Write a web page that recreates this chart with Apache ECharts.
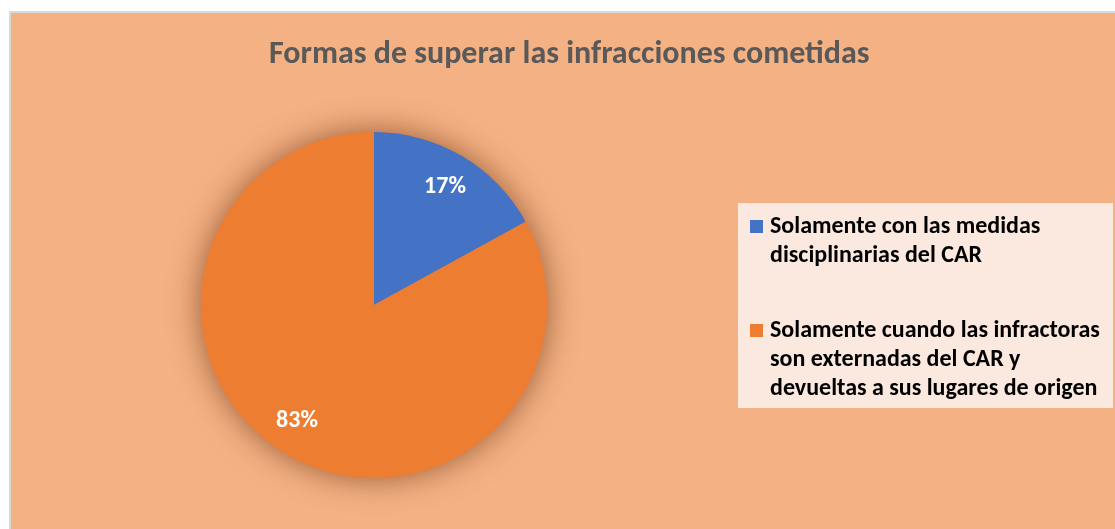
<!DOCTYPE html>
<html>
<head>
<meta charset="utf-8">
<title>Formas de superar las infracciones cometidas</title>
<script src="https://cdn.jsdelivr.net/npm/echarts@6/dist/echarts.min.js"></script>
<style>
  body { margin: 0; background: #fff; }
  #chart {
    position: absolute;
    left: 9px;
    top: 11px;
    width: 1106px;
    height: 518px;
    box-sizing: border-box;
    border-left: 2px solid #d9d9d9;
    border-top: 2px solid #d9d9d9;
    background: #f4b183;
  }
</style>
</head>
<body>
<div id="chart"></div>
<script>
// datos (porcentajes)
const categories = [
  'Solamente con las medidas disciplinarias del CAR',
  'Solamente cuando las infractoras son externadas del CAR y devueltas a sus lugares de origen'
]
const values = [17, 83]
// cortes de línea de la leyenda, como en el original
const legendLines = [
  ['Solamente con las medidas', 'disciplinarias del CAR'],
  ['Solamente cuando las infractoras', 'son externadas del CAR y', 'devueltas a sus lugares de origen']
]
const colors = ['#4472c4', '#ed7d31']

const FONT = 'Carlito, Calibri, Lato, sans-serif'
const LINE_H = 29
// pequeño ajuste de las etiquetas (Excel no las pone justo en el medio)
const labelNudge = [[0, 2], [-6, -4]]

var chartDom = document.getElementById('chart')
var myChart = echarts.init(chartDom)

const pieData = categories.map((name, i) => ({ name: name, value: values[i] }))
const labelData = categories.map((name, i) => ({
  name: name,
  value: values[i],
  label: { offset: labelNudge[i] }
}))

// líneas vacías delante para que la primera línea quede a la altura del cuadro
const legendText = (name) => {
  const lines = legendLines[categories.indexOf(name)]
  const pad = new Array(lines.length - 1).fill(' ')
  return pad.concat(lines).join('\n')
}

const option = {
  color: colors,
  animation: false,
  title: {
    text: 'Formas de superar las infracciones cometidas',
    left: 258,
    top: 26,
    padding: 0,
    textStyle: {
      fontFamily: FONT,
      fontSize: 32,
      fontWeight: 'bold',
      color: '#595959'
    }
  },
  graphic: [
    {
      // caja de la leyenda
      type: 'rect',
      left: 727,
      top: 190,
      shape: { width: 375, height: 205 },
      style: { fill: '#fbe9df' },
      z: 0
    }
  ],
  legend: {
    orient: 'vertical',
    left: 739,
    top: 170,
    padding: 0,
    itemGap: -12,
    itemWidth: 13,
    itemHeight: 13,
    icon: 'rect',
    data: categories,
    formatter: legendText,
    textStyle: {
      fontFamily: FONT,
      fontSize: 24,
      fontWeight: 'bold',
      color: '#000',
      lineHeight: LINE_H,
      padding: [0, 0, 0, 2]
    },
    selectedMode: false
  },
  series: [
    {
      // sombra del círculo completo
      name: 'sombra',
      type: 'pie',
      center: [363, 292],
      radius: 173,
      silent: true,
      z: 1,
      label: { show: false },
      labelLine: { show: false },
      data: [{ name: 'sombra', value: 1 }],
      itemStyle: {
        color: '#ed7d31',
        shadowBlur: 32,
        shadowColor: 'rgba(90, 30, 0, 0.6)'
      }
    },
    {
      name: 'Formas',
      type: 'pie',
      center: [363, 292],
      radius: 173,
      startAngle: 90,
      clockwise: true,
      z: 2,
      label: { show: false },
      labelLine: { show: false },
      itemStyle: { borderWidth: 0 },
      emphasis: { disabled: true },
      data: pieData
    },
    {
      // capa transparente solo para colocar las etiquetas más afuera
      name: 'etiquetas',
      type: 'pie',
      center: [363, 292],
      radius: [100, 173],
      startAngle: 90,
      clockwise: true,
      silent: true,
      z: 3,
      itemStyle: { color: 'rgba(0,0,0,0)' },
      label: {
        show: true,
        position: 'inside',
        formatter: '{d}%',
        fontFamily: FONT,
        fontSize: 24,
        fontWeight: 'bold',
        color: '#fff'
      },
      labelLine: { show: false },
      data: labelData
    }
  ]
}
option && myChart.setOption(option)
window.onresize = () => {
  myChart.resize()
}
</script>
</body>
</html>
